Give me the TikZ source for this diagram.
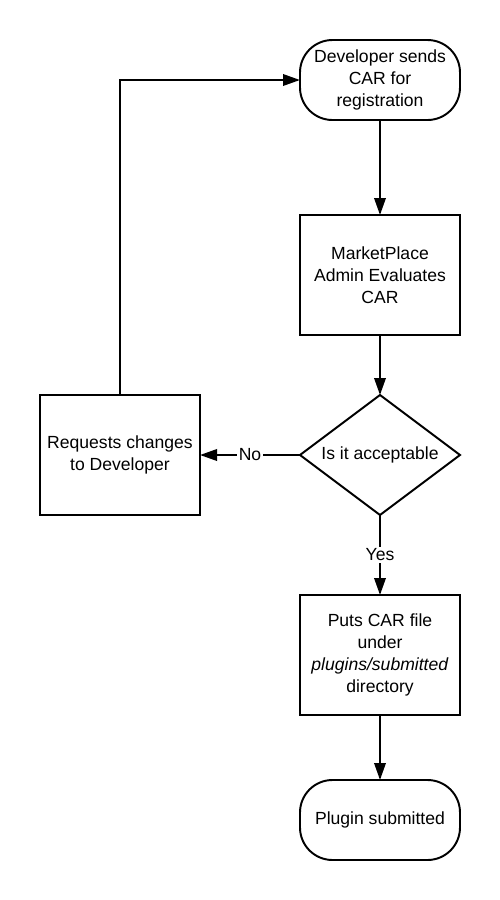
\documentclass[tikz,border=0pt]{standalone}
\usepackage{fontspec}
\setmainfont{Liberation Sans}
\usetikzlibrary{arrows.meta,positioning,shapes.geometric}

\begin{document}
\begin{tikzpicture}[>={Triangle[length=3.4mm,width=2.3mm]}, node distance=1.2cm,
  every node/.style={font=\fontsize{10}{12.5}\selectfont},
  term/.style={draw,rounded corners=6.5mm,minimum width=3.2cm,minimum height=1.6cm,align=center,line width=1.1pt,outer sep=0pt},
  proc/.style={draw,minimum width=3.2cm,minimum height=2.4cm,align=center,line width=1.1pt,outer sep=0pt},
  dec/.style={draw,diamond,aspect=1.333,minimum width=3.2cm,minimum height=2.4cm,inner sep=0pt,line width=1.1pt,outer sep=0pt},
  e/.style={->,line width=1.1pt},
  lbl/.style={fill=white,inner sep=1pt}]

\useasboundingbox (0,0) rectangle (10,-18);

\node[term] (dev) at (7.6,-1.6) {Developer sends\\CAR for\\registration};
\node[proc,below=1.9cm of dev] (eval) {MarketPlace\\Admin Evaluates\\CAR};
\node[dec,below=1.2cm of eval] (ok) {Is it acceptable};
\node[proc,left=2cm of ok] (req) {Requests changes\\to Developer};
\node[proc,below=1.6cm of ok] (puts) {Puts CAR file\\under\\\textit{plugins/submitted}\\directory};
\node[term,below=1.3cm of puts] (done) {Plugin submitted};

\draw[e] (dev) -- (eval);
\draw[e] (eval) -- (ok);
\draw[e] (ok) -- node[lbl] {No} (req);
\draw[e] (ok) -- node[lbl] {Yes} (puts);
\draw[e] (puts) -- (done);
\draw[e] (req) |- (dev);
\end{tikzpicture}
\end{document}
